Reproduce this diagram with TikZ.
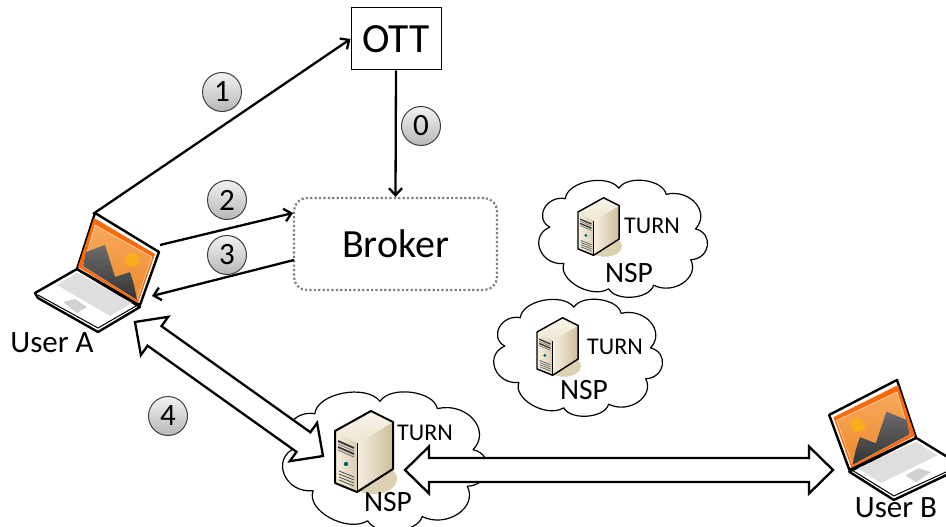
\documentclass[tikz,border=0pt]{standalone}
\usepackage{fontspec}
\setmainfont{Carlito}
\usetikzlibrary{arrows.meta,calc}
\newcommand{\fs}[1]{\fontsize{#1}{#1}\selectfont}
\definecolor{lapor}{HTML}{FB6A0A}
\definecolor{lapimgA}{HTML}{F6A95C}
\definecolor{lapimgB}{HTML}{EE8A2E}
\definecolor{srvshadow}{HTML}{DCD2B2}
\definecolor{srvcream}{HTML}{F6F0E2}
\definecolor{srvtan}{HTML}{CDBD98}
\tikzset{x=1pt,y=-1pt,
  conn/.style={line width=2.3pt,draw=black,-{Straight Barb[length=7pt,width=13pt,line width=2.3pt]}},
  fat/.style={line width=2.3pt,draw=black,fill=white,line join=miter},
  step num/.style={circle,draw=black!75,line width=1pt,minimum size=39pt,inner sep=0pt,top color=white!95!black,bottom color=black!28,font=\fs{31}},
  label/.style={inner sep=0pt,text=black},
  cloudline/.style={draw=black,line width=1.2pt,fill=white,line join=round}
}
% server: origin at left-top corner of front face; #1,#2 position, #3 scale
\newcommand{\server}[3]{%
\begin{scope}[shift={(#1,#2)},scale=#3]
  \fill[srvshadow] (38,48) ellipse (24 and 15);
  \shade[left color=srvcream,right color=srvtan!75!white] (0,0)--(22,12)--(22,61)--(0,52)--cycle;
  \shade[left color=srvcream,right color=srvtan] (22,12)--(58,-9)--(58,38)--(22,61)--cycle;
  \shade[top color=srvcream!70!white,bottom color=srvcream!80!srvtan] (0,0)--(36,-20)--(58,-9)--(22,12)--cycle;
  \draw[black,line width=#3*2pt,line join=round] (0,0)--(36,-20)--(58,-9)--(58,38)--(22,61)--(0,52)--cycle;
  \draw[black,line width=#3*1pt] (22,61)--(22,12);
  \draw[black!80,line width=#3*1.8pt] (3,10)--(19,17) (3,16)--(19,23);
  \draw[black!50,line width=#3*1pt] (3,13)--(19,20) (3,19)--(19,26);
  \fill[teal!80!black] (11,33) circle (2.2);
  \draw[black!65,line width=#3*.9pt] (4,40)--(19,46) (4,43)--(19,49) (4,46)--(19,52) (4,49)--(19,55);
\end{scope}}
% cloud in a box x,y,w,h
\newcommand{\nspcloud}[4]{%
\begin{scope}[shift={(#1,#2)},xscale=#3/100,yscale=#4/100]
  \draw[cloudline] (13.1,19.6)
    to[bend left=72] (47,11.4)
    to[bend left=72] (76.9,16.2)
    to[bend left=72,looseness=1.25] (95.5,43.2)
    to[bend left=80,looseness=1.3] (92.5,67.3)
    to[bend left=72,looseness=1.25] (69,87.2)
    to[bend left=72] (40.6,90)
    to[bend left=72] (12.2,70.2)
    to[bend left=80,looseness=1.3] (3.3,41.8)
    to[bend left=80,looseness=1.3] cycle;
\end{scope}}
% laptop in reference coordinates of User A
\newcommand{\laptopdraw}{%
  \draw[black,fill=white,line width=2.4pt,line join=round] (77,269)--(35,293)--(38,298)--(98,332)--(140,307)--cycle;
  \draw[black,line width=1pt] (38,295)--(98,328)--(136,306);
  \fill[black!13] (57,285)--(77,273)--(132,303)--(110,316)--cycle;
  \fill[black!18] (63,302)--(75,299)--(87,307)--(77,313)--cycle;
  \draw[black,fill=white,line width=2.4pt,line join=round] (95,213)--(159,252)--(140,305)--(77,269)--cycle;
  \fill[lapor] (94,218)--(155,254)--(138,303)--(78,267)--cycle;
  \shade[shading angle=0,top color=lapimgA,bottom color=lapimgB,draw=white!70!orange,line width=.6pt]
     (95,225)--(152,257)--(137,300)--(83,266)--cycle;
  \fill[yellow!45!orange,opacity=.7] (132,260) circle (7);
  \shade[top color=black!58,bottom color=black!80] (83,266)--(86,252)--(105,245)--(115,277)--(130,272)--(134,285)--(137,300)--cycle;
}
\newcommand{\fatarrow}[2]{%
  \coordinate (fa1) at ($(#1)!24pt!(#2)$);
  \coordinate (fa2) at ($(#2)!24pt!(#1)$);
  \draw[fat] (#1) -- ($(fa1)!23.5pt!90:(#2)$) -- ($(fa1)!12pt!90:(#2)$) -- ($(fa2)!12pt!-90:(#1)$) -- ($(fa2)!23.5pt!-90:(#1)$) -- (#2)
     -- ($(fa2)!23.5pt!90:(#1)$) -- ($(fa2)!12pt!90:(#1)$) -- ($(fa1)!12pt!-90:(#2)$) -- ($(fa1)!23.5pt!-90:(#2)$) -- cycle;
}
\begin{document}
\begin{tikzpicture}
\useasboundingbox (0,0) rectangle (946,527);
\clip (0,0) rectangle (946,527);
\fill[white] (0,0) rectangle (946,527);
% clouds and servers
\nspcloud{544.6}{173.6}{158}{128}
\nspcloud{499.6}{292.6}{158}{128}
\nspcloud{289.7}{384}{192}{152}
\server{578}{212}{0.71}
\server{537}{332}{0.71}
\server{335}{431}{1}
\node[label,font=\fs{24}] (turn1) at (652,226) {TURN};
\node[label,font=\fs{29.5}] (nsp1) at (629,273) {NSP};
\node[label,font=\fs{24}] (turn2) at (615,347) {TURN};
\node[label,font=\fs{29.5}] (nsp2) at (584,390) {NSP};
\node[label,font=\fs{24}] (turn3) at (425,433) {TURN};
\node[label,font=\fs{29.5}] (nsp3) at (388,502) {NSP};
% laptops
\begin{scope}\laptopdraw\end{scope}
\begin{scope}[cm={-1.06,0.07,0,1.01,(997.7pt,-171.5pt)}]\laptopdraw\end{scope}
\node[label,font=\fs{31}] (usera) at (52,343) {User A};
\node[label,font=\fs{31}] (userb) at (896,508) {User B};
% main nodes
\node[draw=black,line width=1pt,minimum width=90pt,minimum height=62pt,inner sep=0pt,font=\fs{41.5}] (ott) at (396,39) {OTT};
\node[draw=black!50,line width=2.2pt,dash pattern=on 2.2pt off 2.2pt,rounded corners=13pt,minimum width=203pt,minimum height=92pt,inner sep=0pt,font=\fs{40}] (broker) at (395.5,244) {Broker};
% connector ends
\coordinate (laA1) at (93,214);
\coordinate (laA2) at (160,245);
\coordinate (laA3) at (152,296);
\coordinate (brIn) at (293,213);
\coordinate (brOut) at (294,260);
\coordinate (laA4) at (135,322);
\coordinate (srv4) at (323,456);
\coordinate (srv5) at (405,470);
\coordinate (laB) at (833,470);
\draw[conn] (laA1) -- (ott.west);
\draw[conn] (ott.south) -- (broker.north);
\draw[conn] (laA2) -- (brIn);
\draw[conn] (brOut) -- (laA3);
\fatarrow{laA4}{srv4}
\fatarrow{srv5}{laB}
% step numbers
\node[step num] (n1) at (222,92) {1};
\node[step num] (n0) at (421,126) {0};
\node[step num] (n2) at (227,200) {2};
\node[step num] (n3) at (227,255) {3};
\node[step num] (n4) at (168,416) {4};
\end{tikzpicture}
\end{document}
